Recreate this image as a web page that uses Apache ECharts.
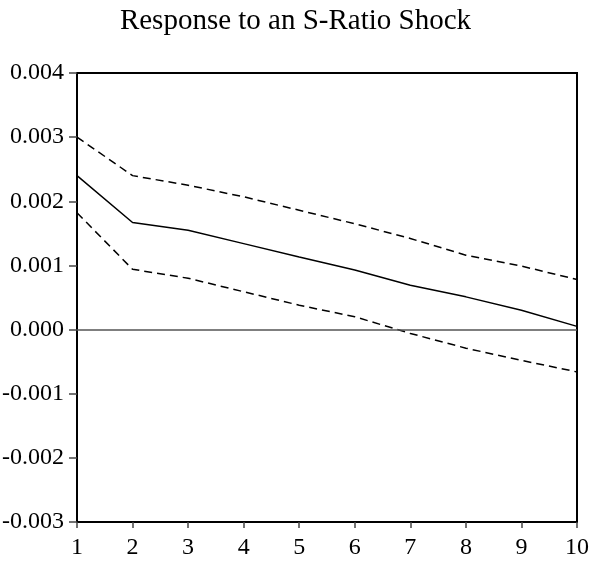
<!DOCTYPE html>
<html>
<head>
<meta charset="utf-8">
<script src="https://cdn.jsdelivr.net/npm/echarts@6/dist/echarts.min.js"></script>
<style>
  html, body { margin: 0; padding: 0; background: #fff; }
  #chart { width: 591px; height: 564px; }
</style>
</head>
<body>
<div id="chart"></div>
<script>
// Impulse response horizon (periods) and tick labels
const periods = [1, 2, 3, 4, 5, 6, 7, 8, 9, 10];
const yTicks = [-0.003, -0.002, -0.001, 0.000, 0.001, 0.002, 0.003, 0.004];

// Point estimate of the response and its +/- 2 S.E. band
const response = [0.00240, 0.00167, 0.00155, 0.00134, 0.00113, 0.00093, 0.00069, 0.00051, 0.00030, 0.00005];
const upperBand = [0.00300, 0.00240, 0.00225, 0.00207, 0.00186, 0.00165, 0.00142, 0.00116, 0.00099, 0.00078];
const lowerBand = [0.00182, 0.00094, 0.00080, 0.00059, 0.00038, 0.00020, -0.00006, -0.00029, -0.00048, -0.00066];

const pairs = vals => periods.map((p, i) => [p, vals[i]]);
const serif = 'Liberation Serif';

const chart = echarts.init(document.getElementById('chart'), null, { renderer: 'canvas' });
chart.setOption({
  animation: false,
  backgroundColor: '#ffffff',
  title: {
    text: 'Response to an S-Ratio Shock',
    left: 'center',
    top: 2,
    textStyle: { fontFamily: serif, fontSize: 29, fontWeight: 'normal', color: '#000' }
  },
  grid: {
    left: 77, right: 14, top: 73, bottom: 42,
    containLabel: false,
    outerBoundsMode: 'none',
    show: true,
    borderColor: '#000',
    borderWidth: 2,
    backgroundColor: 'transparent'
  },
  xAxis: {
    type: 'value',
    min: 1, max: 10, interval: 1,
    axisLine: { show: true, onZero: false, lineStyle: { color: '#000', width: 2 } },
    axisTick: { show: true, inside: false, length: 6, lineStyle: { color: '#444', width: 1.5 } },
    axisLabel: { fontFamily: serif, fontSize: 24, color: '#000', margin: 14 },
    splitLine: { show: false }
  },
  yAxis: {
    type: 'value',
    min: yTicks[0], max: yTicks[yTicks.length - 1], interval: 0.001,
    axisLine: { show: true, onZero: false, lineStyle: { color: '#000', width: 2 } },
    axisTick: { show: true, inside: false, length: 8, lineStyle: { color: '#444', width: 1.5 } },
    axisLabel: {
      fontFamily: serif, fontSize: 24, color: '#000', margin: 13,
      verticalAlign: 'middle', padding: [0, 0, 7, 0],
      formatter: v => v.toFixed(3)
    },
    splitLine: { show: false }
  },
  series: [
    {
      name: 'upper', type: 'line', data: pairs(upperBand), symbol: 'none', silent: true,
      lineStyle: { color: '#000', width: 1.5, type: [8, 5] }
    },
    {
      name: 'response', type: 'line', data: pairs(response), symbol: 'none', silent: true,
      lineStyle: { color: '#000', width: 1.5 },
      markLine: {
        silent: true, symbol: 'none', label: { show: false },
        lineStyle: { color: '#555', width: 1.5, type: 'solid' },
        data: [{ yAxis: 0 }]
      }
    },
    {
      name: 'lower', type: 'line', data: pairs(lowerBand), symbol: 'none', silent: true,
      lineStyle: { color: '#000', width: 1.5, type: [8, 5] }
    }
  ]
});
</script>
</body>
</html>
